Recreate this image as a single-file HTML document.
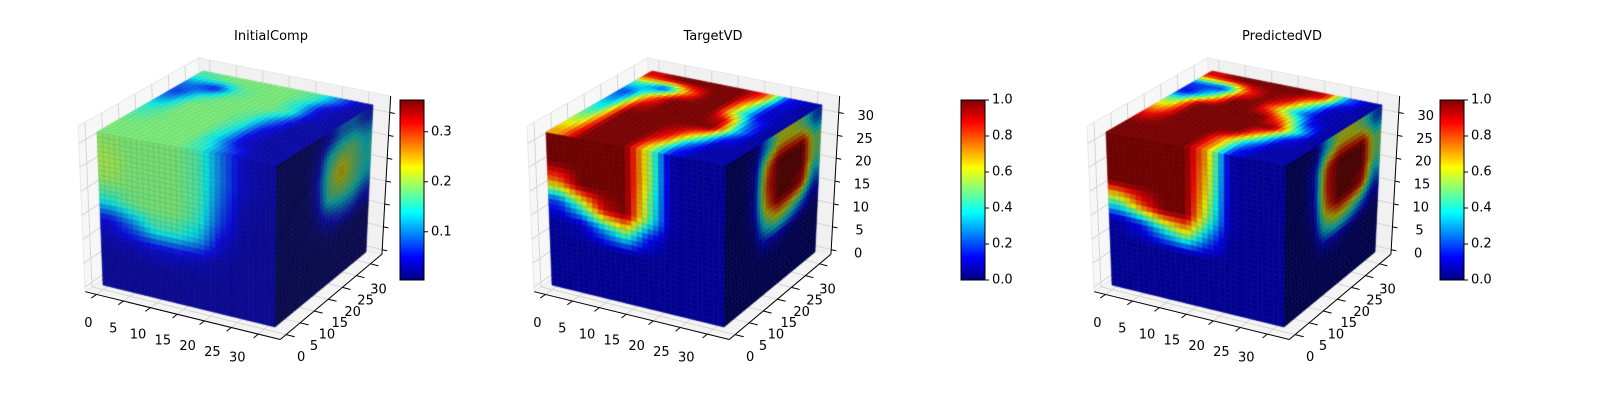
<!DOCTYPE html>
<html><head><meta charset="utf-8"><style>
html,body{margin:0;padding:0;background:#fff;}
#wrap{position:relative;width:1600px;height:400px;overflow:hidden;font-family:"DejaVu Sans","Liberation Sans",sans-serif;}
#wrap svg,#wrap canvas{position:absolute;left:0;top:0;}
</style></head><body>
<div id="wrap">
<svg id="bg" width="1600" height="400"></svg>
<canvas id="cv" width="1600" height="400"></canvas>
<svg id="fg" width="1600" height="400"></svg>
</div>
<script>
// ---- data ----
const titles = ["InitialComp","TargetVD","PredictedVD"];
const axisTicks = [0,5,10,15,20,25,30];
const cb1Ticks = [0.1,0.2,0.3];
const cb1Labels = ["0.1","0.2","0.3"];
const cbTicks = [0,0.2,0.4,0.6,0.8,1.0];
const cbLabels = ["0.0","0.2","0.4","0.6","0.8","1.0"];
const cb1Range = [0.0035,0.3635];
// face grids (normalized colormap values), rows top->bottom (top face: back->front)
const p1Front = [
[.52,.5,.5,.5,.45,.25,.08,.05],[.55,.5,.5,.5,.45,.25,.08,.05],[.52,.5,.5,.5,.45,.22,.06,.04],[.4,.48,.5,.5,.42,.18,.05,.04],
[.12,.25,.42,.42,.32,.1,.04,.04],[.06,.08,.1,.1,.08,.05,.04,.04],[.04,.04,.04,.04,.04,.04,.04,.04],[.04,.04,.04,.04,.04,.04,.04,.04]];
const p1Right = [
[0,0,0,.03,.12,.25,.25,.15],[0,0,0,.08,.4,.5,.5,.35],[0,0,0,.12,.48,.7,.52,.4],[0,0,0,.08,.45,.52,.48,.35],
[0,0,0,.03,.15,.25,.25,.15],[0,0,0,0,.02,.02,.02,0],[0,0,0,0,0,0,0,0],[0,0,0,0,0,0,0,0]];
const p1Top = [
[.45,.5,.5,.5,.5,.45,.25,.06],[.25,.12,.45,.5,.5,.38,.1,.05],[.18,.42,.5,.5,.5,.42,.1,.05],[.3,.5,.5,.5,.45,.25,.06,.05],
[.42,.5,.5,.5,.42,.15,.05,.05],[.46,.5,.5,.5,.38,.1,.05,.05],[.5,.5,.5,.5,.35,.1,.05,.05],[.5,.5,.5,.5,.42,.22,.07,.05]];
const p2Front = [
[1,1,1,1,.6,.06,.04,.04],[1,1,1,1,.6,.06,.04,.04],[.75,1,1,1,.55,.06,.04,.04],[.2,.5,.9,1,.5,.06,.04,.04],
[.05,.08,.3,.5,.15,.04,.04,.04],[.04,.04,.04,.04,.04,.04,.04,.04],[.04,.04,.04,.04,.04,.04,.04,.04],[.04,.04,.04,.04,.04,.04,.04,.04]];
const p2Right = [
[0,0,.03,.3,.6,.6,.5,.2],[0,0,.08,.7,1,1,1,.5],[0,0,.08,.8,1,1,1,.5],[0,0,.08,.7,1,1,.9,.3],
[0,0,.03,.4,.6,.5,.3,.08],[0,0,0,.08,.08,.03,0,0],[0,0,0,0,0,0,0,0],[0,0,0,0,0,0,0,0]];
const p2Top = [
[.9,1,1,1,1,.8,.15,.05],[.4,.15,.7,1,1,.6,.1,.05],[.2,.7,1,1,1,.5,.1,.05],[.3,.9,1,1,1,.9,.25,.05],
[.4,1,1,1,1,1,.35,.05],[.5,1,1,1,.9,.6,.15,.05],[.6,1,1,1,.8,.3,.06,.05],[.7,1,1,1,.6,.15,.05,.05]];
const p3Front = [
[1,1,1,1,.7,.06,.04,.04],[1,1,1,1,.65,.06,.04,.04],[1,1,1,1,.6,.06,.04,.04],[.5,.8,1,1,.5,.06,.04,.04],
[.06,.15,.4,.6,.25,.04,.04,.04],[.04,.04,.04,.04,.04,.04,.04,.04],[.04,.04,.04,.04,.04,.04,.04,.04],[.04,.04,.04,.04,.04,.04,.04,.04]];
const p3Right = [
[0,0,.03,.35,.6,.6,.5,.2],[0,0,.12,.8,1,1,1,.5],[0,0,.12,.85,1,1,1,.5],[0,0,.08,.75,1,1,.9,.3],
[0,0,.03,.45,.6,.5,.3,.08],[0,0,0,.08,.08,.03,0,0],[0,0,0,0,0,0,0,0],[0,0,0,0,0,0,0,0]];
const p3Top = [
[.9,1,1,1,1,.9,.25,.05],[.2,.15,.8,1,.9,.5,.08,.05],[.12,.5,1,1,.7,.3,.06,.05],[.5,1,1,1,1,.7,.15,.05],
[.7,1,1,1,1,1,.45,.05],[.9,1,1,1,1,.6,.15,.05],[1,1,1,1,.7,.3,.06,.05],[1,1,1,1,.7,.15,.05,.05]];

// ---- geometry ----
const panelDX = [0,449,1009];
const cbarX = [400,961,1440];
const titleX = [271,713,1282];
const C = {"000":[103,285],"100":[275,327],"010":[207,211],"110":[366,252],"001":[97,132],"101":[277,165],"011":[203,71],"111":[373,105]};
const A = 0.065, W0 = -0.03, W1 = 1.05;
function proj(u,v,w,dx){
  let x=0,y=0;
  for(const k in C){
    const a=+k[0],b=+k[1],c=+k[2];
    const f=(a?u:1-u)*(b?v:1-v)*(c?w:1-w);
    x+=f*C[k][0]; y+=f*C[k][1];
  }
  return [x+dx,y];
}
function jet(v){
  const cl=t=>Math.max(0,Math.min(1,t));
  return [cl(1.5-Math.abs(4*v-3)),cl(1.5-Math.abs(4*v-2)),cl(1.5-Math.abs(4*v-1))];
}
function sample(g,px,py){
  const gx=Math.max(0,Math.min(7,px*8-0.5)), gy=Math.max(0,Math.min(7,py*8-0.5));
  const x0=Math.floor(gx),y0=Math.floor(gy),x1=Math.min(7,x0+1),y1=Math.min(7,y0+1);
  const fx=gx-x0,fy=gy-y0;
  return g[y0][x0]*(1-fx)*(1-fy)+g[y0][x1]*fx*(1-fy)+g[y1][x0]*(1-fx)*fy+g[y1][x1]*fx*fy;
}
const NS="http://www.w3.org/2000/svg";
const bg=document.getElementById('bg'), fg=document.getElementById('fg');
function mk(parent,tag,attrs){const e=document.createElementNS(NS,tag);for(const k in attrs)e.setAttribute(k,attrs[k]);parent.appendChild(e);return e;}
function pts(a){return a.map(p=>p[0].toFixed(1)+','+p[1].toFixed(1)).join(' ');}

const grids=[[p1Front,p1Right,p1Top],[p2Front,p2Right,p2Top],[p3Front,p3Right,p3Top]];
const ctx=document.getElementById('cv').getContext('2d');
const N=32;

for(let p=0;p<3;p++){
  const dx=panelDX[p];
  const P=(u,v,w)=>proj(u,v,w,dx);
  let e;
  e=mk(bg,'polygon',{points:pts([P(-A,-A,W0),P(1+A,-A,W0),P(1+A,1+A,W0),P(-A,1+A,W0)]),fill:'#f4f4f4',stroke:'#e8e8e8'});
   
  e=mk(bg,'polygon',{points:pts([P(-A,-A,W0),P(-A,1+A,W0),P(-A,1+A,W1),P(-A,-A,W1)]),fill:'#f7f7f7',stroke:'#e8e8e8'});
   
  e=mk(bg,'polygon',{points:pts([P(-A,1+A,W0),P(1+A,1+A,W0),P(1+A,1+A,W1),P(-A,1+A,W1)]),fill:'#f1f1f1',stroke:'#e8e8e8'});
   
  for(const t of axisTicks){
    const f=t/32;
    e=mk(bg,'polyline',{points:pts([P(f,-A,W0),P(f,1+A,W0),P(f,1+A,W1)]),fill:'none',stroke:'#d6d6d6','stroke-width':1});
     
    e=mk(bg,'polyline',{points:pts([P(1+A,f,W0),P(-A,f,W0),P(-A,f,W1)]),fill:'none',stroke:'#d6d6d6','stroke-width':1});
     
    e=mk(bg,'polyline',{points:pts([P(-A,-A,f),P(-A,1+A,f),P(1+A,1+A,f)]),fill:'none',stroke:'#d6d6d6','stroke-width':1});
     
  }
  const [gF,gR,gT]=grids[p];
  const faces=[
    {g:gF,shade:0.9,q:(i,k)=>[P(i/N,0,1-k/N),P((i+1)/N,0,1-k/N),P((i+1)/N,0,1-(k+1)/N),P(i/N,0,1-(k+1)/N)]},
    {g:gR,shade:0.6,q:(i,k)=>[P(1,i/N,1-k/N),P(1,(i+1)/N,1-k/N),P(1,(i+1)/N,1-(k+1)/N),P(1,i/N,1-(k+1)/N)]},
    {g:gT,shade:1.0,q:(i,k)=>[P(i/N,1-k/N,1),P((i+1)/N,1-k/N,1),P((i+1)/N,1-(k+1)/N,1),P(i/N,1-(k+1)/N,1)]}
  ];
  for(const fc of faces){
    for(let k=0;k<N;k++)for(let i=0;i<N;i++){
      const v=sample(fc.g,(i+0.5)/N,(k+0.5)/N);
      let c=jet(v).map(x=>x*fc.shade);
      if(p===0) c=c.map(x=>x*0.92+0.04);
      const q=fc.q(i,k);
      ctx.beginPath();ctx.moveTo(q[0][0],q[0][1]);for(let j=1;j<4;j++)ctx.lineTo(q[j][0],q[j][1]);ctx.closePath();
      ctx.fillStyle=`rgb(${c.map(x=>Math.round(x*255)).join(',')})`;
      ctx.fill();
      ctx.strokeStyle=`rgb(${c.map(x=>Math.round(x*215)).join(',')})`;
      ctx.lineWidth=0.6;ctx.stroke();
    }
  }
  e=mk(fg,'line',{x1:P(-A,-A,W0)[0],y1:P(-A,-A,W0)[1],x2:P(1+A,-A,W0)[0],y2:P(1+A,-A,W0)[1],stroke:'#000','stroke-width':1});
   
  e=mk(fg,'line',{x1:P(1+A,-A,W0)[0],y1:P(1+A,-A,W0)[1],x2:P(1+A,1+A,W0)[0],y2:P(1+A,1+A,W0)[1],stroke:'#000','stroke-width':1});
   
  e=mk(fg,'line',{x1:P(1+A,1+A,W0)[0],y1:P(1+A,1+A,W0)[1],x2:P(1+A,1+A,W1)[0],y2:P(1+A,1+A,W1)[1],stroke:'#000','stroke-width':1});
   
  axisTicks.forEach((t,ti)=>{
    const f=t/32, s=t/30;
    let a=P(f,-A,W0), b=P(f,-A-0.05,W0);
    e=mk(fg,'line',{x1:a[0],y1:a[1],x2:b[0],y2:b[1],stroke:'#000','stroke-width':1});
     
    e=mk(fg,'text',{x:a[0]-8-13*s,y:a[1]+29-5*s,'font-size':13,'text-anchor':'middle','dominant-baseline':'central',fill:'#000'});
    e.textContent=String(t);
     
    a=P(1+A,f,W0); b=P(1+A+0.05,f,W0);
    e=mk(fg,'line',{x1:a[0],y1:a[1],x2:b[0],y2:b[1],stroke:'#000','stroke-width':1});
     
    e=mk(fg,'text',{x:a[0]+15-7*s,y:a[1]+23+3*s,'font-size':13,'text-anchor':'middle','dominant-baseline':'central',fill:'#000'});
    e.textContent=String(t);
     
    a=P(1+A,1+A,f); b=[a[0]+5,a[1]+1];
    e=mk(fg,'line',{x1:a[0],y1:a[1],x2:b[0],y2:b[1],stroke:'#000','stroke-width':1});
     
    if(p>0){
      e=mk(fg,'text',{x:a[0]+27,y:a[1]+4,'font-size':13,'text-anchor':'middle','dominant-baseline':'central',fill:'#000'});
      e.textContent=String(t);
       
    }
  });
  e=mk(fg,'text',{x:titleX[p],y:40,'font-size':13,'text-anchor':'middle',fill:'#000'});
  e.textContent=titles[p];
   
  const cx=cbarX[p], cy0=100, cy1=280, cw=24;
  e=mk(fg,'rect',{x:cx,y:cy0,width:cw,height:cy1-cy0,fill:'url(#jetgrad)',stroke:'#000','stroke-width':1});
   
  const tks = p===0?cb1Ticks:cbTicks, lbs=p===0?cb1Labels:cbLabels;
  const lo = p===0?cb1Range[0]:0, hi=p===0?cb1Range[1]:1;
  tks.forEach((t,i)=>{
    const y=cy1-(t-lo)/(hi-lo)*(cy1-cy0);
    e=mk(fg,'line',{x1:cx+cw,y1:y,x2:cx+cw+4,y2:y,stroke:'#000','stroke-width':1});
     
    e=mk(fg,'text',{x:cx+cw+7,y:y,'font-size':13,'dominant-baseline':'central',fill:'#000'});
    e.textContent=lbs[i];
     
  });
}
const defs=mk(fg,'defs',{});
const lg=mk(defs,'linearGradient',{id:'jetgrad',x1:0,y1:1,x2:0,y2:0});
for(let i=0;i<=16;i++){const v=i/16,c=jet(v);mk(lg,'stop',{offset:v,'stop-color':`rgb(${c.map(x=>Math.round(x*255)).join(',')})`});}
</script>
</body></html>
